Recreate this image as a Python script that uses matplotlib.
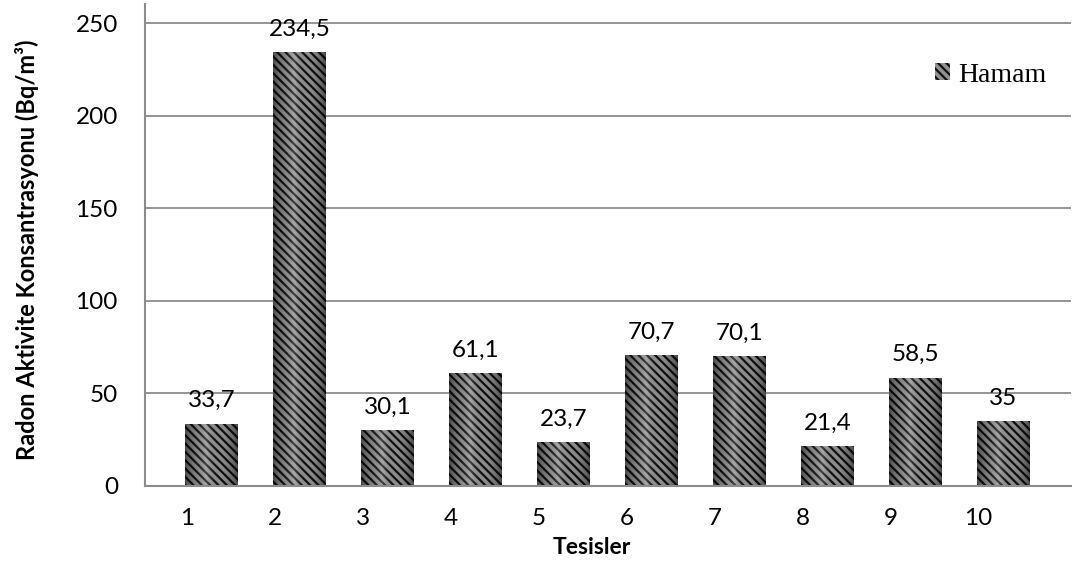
import numpy as np
import matplotlib
matplotlib.use("Agg")
import matplotlib.pyplot as plt

# Radon activity concentration measured in the bath (hamam) of each facility
facilities = ["1", "2", "3", "4", "5", "6", "7", "8", "9", "10"]
radon_values = [33.7, 234.5, 30.1, 61.1, 23.7, 70.7, 70.1, 21.4, 58.5, 35]
value_labels = ["33,7", "234,5", "30,1", "61,1", "23,7", "70,7", "70,1", "21,4", "58,5", "35"]
y_ticks = [0, 50, 100, 150, 200, 250]
series_name = "Hamam"

plt.rcParams["font.family"] = ["Lato", "DejaVu Sans"]
plt.rcParams["hatch.linewidth"] = 1.6

W, H = 1072, 566
fig = plt.figure(figsize=(W / 100, H / 100), dpi=100)
ax = fig.add_axes([145 / W, 1 - 486 / H, (1071 - 145) / W, (486 - 4) / H])

x = np.arange(1, len(facilities) + 1)
axis_grey = "#8c8c8c"
fs = 17.5

bars = ax.bar(x, radon_values, width=0.6, color="#909090", edgecolor="#101010",
              linewidth=0, hatch="\\\\\\\\", zorder=2, label=series_name)

# cylinder-like shading across each bar
u = np.linspace(-1, 1, 80)
shade = np.zeros((1, u.size, 4))
dark = np.clip(np.abs(u) ** 3, 0, 1)
light = np.clip(1 - np.abs(u + 0.2) * 2.0, 0, 1)
shade[0, :, :3] = light[:, None]
shade[0, :, 3] = 0.5 * dark + 0.22 * light
for rect in bars:
    x0, w, h = rect.get_x(), rect.get_width(), rect.get_height()
    im = ax.imshow(shade, extent=(x0, x0 + w, 0, h), aspect="auto",
                   interpolation="bilinear", zorder=3)
    im.set_clip_path(rect)

for xi, v, lab in zip(x, radon_values, value_labels):
    ax.annotate(lab, (xi, v), xytext=(0, 9), textcoords="offset points",
                ha="center", va="bottom", fontsize=fs, color="black")

ax.set_xlim(0.245, 10.77)
ax.set_ylim(0, 260.5)
ax.set_yticks(y_ticks)
ax.set_yticklabels([str(t) for t in y_ticks], fontsize=fs)
ax.set_xticks(x - 0.28)
ax.set_xticklabels(facilities, fontsize=fs)
ax.tick_params(axis="both", length=0)
ax.tick_params(axis="y", pad=19.5)
ax.tick_params(axis="x", pad=16)

ax.yaxis.grid(True, color=axis_grey, linewidth=1.3, zorder=0)
ax.set_axisbelow(True)
for side in ("top", "right"):
    ax.spines[side].set_visible(False)
for side in ("left", "bottom"):
    ax.spines[side].set_color(axis_grey)
    ax.spines[side].set_linewidth(1.5)
    ax.spines[side].set_zorder(4)

fig.text(27 / W, 1 - 250 / H, "Radon Aktivite Konsantrasyonu (Bq/m\u00b3)", rotation=90,
         ha="center", va="center", fontsize=17, fontweight="bold")
fig.text(592 / W, 1 - 548 / H, "Tesisler", ha="center", va="center",
         fontsize=16.5, fontweight="bold")

ax.legend(loc="center left", bbox_to_anchor=(921 / W, 1 - 75 / H),
          bbox_transform=fig.transFigure, frameon=False, borderpad=0,
          handlelength=0.55, handleheight=0.55, handletextpad=0.3,
          prop={"family": "Liberation Serif", "size": 20})

fig.savefig("out.png", dpi=100)
